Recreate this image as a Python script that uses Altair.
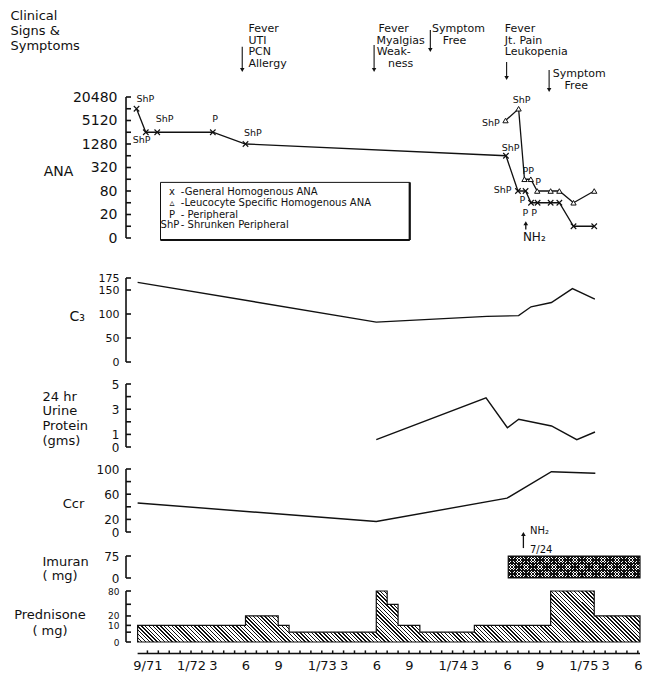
import altair as alt
import pandas as pd

FONT = "DejaVu Sans"
INK = "#111111"
NB = "\u00a0"

# ---------------- data (time = months counted from Jan 1971, 0 = 1/71) ----------------
T0, T1 = 7.1, 53.2
month_ticks = list(range(8, 54))

# ANA titres - general homogenous (x) and leucocyte specific (triangles)
gen_t = [7.0, 7.85, 8.9, 14.0, 17.0, 40.9, 42.0, 42.7, 43.2, 43.8, 45.0, 45.8, 47.1, 49.0]
gen_titer = [10240, 2560, 2560, 2560, 1280, 640, 80, 80, 40, 40, 40, 40, 10, 10]
leu_t = [40.86, 42.06, 42.6, 43.18, 43.77, 45.0, 45.8, 47.1, 49.0]
leu_titer = [5120, 10240, 160, 160, 80, 80, 80, 40, 80]
pat_text = ["ShP", "ShP", "ShP", "P", "ShP", "ShP", "ShP", "ShP", "PP", "P", "ShP", "P", "P P"]
pat_t = [7.82, 7.46, 9.58, 14.21, 17.68, 41.32, 39.52, 42.33, 42.95, 43.85, 40.6, 42.4, 43.08]
pat_titer = [18200, 1624, 5490, 5490, 2410, 993, 4340, 17120, 260, 135, 85, 47, 21.5]
ana_ticks = [5 * 2 ** k for k in range(13)]

legend_sym = ["x", "\u25b5", "P", "ShP"]
legend_desc = ["-General  Homogenous ANA", "-Leucocyte Specific Homogenous ANA",
               "- Peripheral", "- Shrunken Peripheral"]
legend_titer = [73.9, 39.2, 20.0, 10.6]

c3_t = [7.1, 29.0, 39.15, 42.06, 43.2, 45.07, 47.0, 49.06]
c3_val = [166, 83, 95, 96.5, 115, 124, 153, 131]
urine_t = [29.0, 39.07, 41.03, 42.07, 45.08, 47.4, 49.07]
urine_val = [0.58, 3.9, 1.53, 2.2, 1.67, 0.58, 1.19]
ccr_t = [7.1, 29.0, 41.0, 45.07, 49.1]
ccr_val = [46, 16.7, 53.7, 95.7, 93.2]
imuran_start, imuran_end, imuran_dose = 41.11, 53.2, 75
pred_t = [7.1, 17, 20, 21, 29, 30, 31, 33, 38, 45, 49, 53.2]
pred_dose = [10, 20, 10, 5, 80, 40, 10, 5, 10, 80, 20, 20]

ann_text = ["Fever", "UTI", "PCN", "Allergy",
            "Fever", "Myalgias", "Weak-", "ness",
            "Symptom", "Free",
            "Fever", "Jt. Pain", "Leukopenia",
            "Symptom", "Free"]
ann_t = [17.27, 17.27, 17.27, 17.27,
         30.6, 31.23, 30.6, 31.23,
         36.54, 36.18,
         40.8, 40.8, 40.8,
         47.62, 47.35]
ann_row = [21, 32.6, 44.2, 55.8, 21, 32.6, 44.2, 55.8, 21, 32.6, 21, 32.6, 44.2, 66, 78]
ann_align = ["left"] * 4 + ["center"] * 6 + ["left"] * 3 + ["center"] * 2
arrow_t = [16.7, 28.8, 33.96, 40.96, 44.86]
arrow_from = [38.7, 37, 22, 54, 62]
arrow_to = [62, 62, 42, 70, 82]

# ---------------- layout ----------------
W_DATA = 502                  # width of the time span T0..T1
AX_OFF = 11.6                 # value axes stand this far left of the time origin
INSET = 12                    # room between panel edge and the value axes
TICK = 5
PPM = W_DATA / (T1 - T0)      # pixels per month
X_AX = T0 - AX_OFF / PPM      # position of the value axes
XL = X_AX - INSET / PPM       # left edge of every panel
W = int(round(W_DATA + AX_OFF + INSET))
H_ANN, H_ANA, H_C3, H_UR, H_CCR, H_IM, H_PR, H_TA = 87, 141, 84, 63, 63, 22, 51, 8
GAPS = [2, 40, 22, 22, 24, 13, 8]

xsc = alt.Scale(domain=[XL, T1], nice=False, zero=False)


def X(f="t", axis=None):
    return alt.X(f"{f}:Q", scale=xsc, axis=axis)


def yaxis(values, title, tx, ty, align="left", lh=14.0, fs=12, gap=7, expr=None, tfs=13, show=True):
    kw = dict(orient="left", offset=-INSET, grid=False, domain=False, ticks=False, tickSize=0,
              labels=show, labelPadding=gap, labelAlign="right", labelBaseline="middle",
              labelFont=FONT, labelFontSize=fs, labelColor=INK, labelOverlap=False, labelFlush=False,
              title=title, titleAngle=0, titleX=tx, titleY=ty, titleAlign=align, titleBaseline="top",
              titleFont=FONT, titleFontSize=tfs, titleFontWeight="normal", titleColor=INK,
              titleLineHeight=lh)
    if values is not None:
        kw["values"] = values
    if expr is not None:
        kw["labelExpr"] = expr
    return alt.Axis(**kw)


def frame(values, Y):
    """Bracket-style value axis: spine plus inward ticks, drawn as rule segments."""
    lo, hi = min(values), max(values)
    xt = X_AX + TICK / PPM
    rows = {"x1": [X_AX] + [X_AX] * len(values),
            "x2": [X_AX] + [xt] * len(values),
            "y1": [lo] + list(values),
            "y2": [hi] + list(values)}
    return alt.Chart(pd.DataFrame(rows)).mark_rule(color=INK, strokeWidth=1.6).encode(
        x=X("x1"), x2="x2:Q", y=Y("y1"), y2="y2:Q")


def hatch(w, h, period, frac, forward, dark, light):
    k = h / w
    c = (w + h) * w / (w * w + h * h)
    if forward:
        x1, y1, x2, y2 = 0, 0, c, c * k
    else:
        x1, y1, x2, y2 = 0, 1, c, 1 - c * k
    ds = period / (w + h)
    stops = []
    i = 0
    while i * ds < 1:
        a = i * ds
        b = min(a + frac * ds, 1.0)
        e = min(a + ds, 1.0)
        stops += [(a, dark), (b, dark), (b, light), (e, light)]
        i += 1
    return {"gradient": "linear", "x1": x1, "y1": y1, "x2": x2, "y2": y2,
            "stops": [{"offset": round(o, 6), "color": col} for o, col in stops]}


# ---------------- clinical signs panel ----------------
ysc_ann = alt.Scale(domain=[0, H_ANN], reverse=True, nice=False, zero=False)
ax_ann = yaxis(None, ["Clinical", "Signs &", "Symptoms"], -116, 1.5, lh=15, show=False)
df_ann = pd.DataFrame(dict(t=ann_t, row=ann_row, text=ann_text, al=ann_align))
df_arr = pd.DataFrame(dict(t=arrow_t, y1=arrow_from, y2=arrow_to))

ann_left = alt.Chart(df_ann).transform_filter(alt.datum.al == "left").mark_text(
    align="left", baseline="middle", font=FONT, fontSize=11, color=INK
).encode(x=X(), y=alt.Y("row:Q", scale=ysc_ann, axis=ax_ann), text="text:N")
ann_center = alt.Chart(df_ann).transform_filter(alt.datum.al == "center").mark_text(
    align="center", baseline="middle", font=FONT, fontSize=11, color=INK
).encode(x=X(), y=alt.Y("row:Q", scale=ysc_ann, axis=ax_ann), text="text:N")
ann_rule = alt.Chart(df_arr).mark_rule(color=INK, strokeWidth=1.1).encode(
    x=X(), y=alt.Y("y1:Q", scale=ysc_ann, axis=ax_ann), y2="y2:Q")
ann_head = alt.Chart(df_arr).mark_point(shape="triangle-down", filled=True, size=20, color=INK, opacity=1).encode(
    x=X(), y=alt.Y("y2:Q", scale=ysc_ann, axis=ax_ann))
annot = alt.layer(ann_left, ann_center, ann_rule, ann_head).properties(width=W, height=H_ANN)

# ---------------- ANA panel ----------------
ysc_ana = alt.Scale(type="log", base=2, domain=[5, 20480], nice=False)
ana_expr = ("datum.value == 5 ? '0' : (round(log(datum.value / 5) / log(2)) % 2 == 0 ? "
            "format(datum.value, 'd') : '')")
ax_ana = yaxis(ana_ticks, "ANA", -68, 67.1, align="center", fs=14, gap=9, tfs=14, expr=ana_expr)


def YA(f):
    return alt.Y(f"{f}:Q", scale=ysc_ana, axis=ax_ana)


box_df = pd.DataFrame({"x1": [9.2], "x2": [32.07], "y1": [133], "y2": [4.44]})
shadow_df = pd.DataFrame({"x1": [32.07, 9.2], "x2": [32.07, 32.07], "y1": [4.44, 4.44], "y2": [133, 4.44]})
box = alt.Chart(box_df).mark_rect(fill="white", stroke=INK, strokeWidth=1).encode(
    x=X("x1"), x2="x2:Q", y=YA("y1"), y2="y2:Q")
shadow = alt.Chart(shadow_df).mark_rule(color=INK, strokeWidth=2.2).encode(
    x=X("x1"), x2="x2:Q", y=YA("y1"), y2="y2:Q")
leg_df = pd.DataFrame(dict(ts=[10.25, 10.25, 10.25, 10.07], td=[11.06] * 4,
                           titer=legend_titer, sym=legend_sym, desc=legend_desc))
leg_sym = alt.Chart(leg_df).mark_text(align="center", baseline="middle", font=FONT, fontSize=10, color=INK).encode(
    x=X("ts"), y=YA("titer"), text="sym:N")
leg_desc = alt.Chart(leg_df).mark_text(align="left", baseline="middle", font=FONT, fontSize=10, color=INK).encode(
    x=X("td"), y=YA("titer"), text="desc:N")

gen_df = pd.DataFrame(dict(t=gen_t, titer=gen_titer))
leu_df = pd.DataFrame(dict(t=leu_t, titer=leu_titer))
pat_df = pd.DataFrame(dict(t=pat_t, titer=pat_titer, text=pat_text))
XPATH = "M-1,-1L1,1M-1,1L1,-1"
gen_line = alt.Chart(gen_df).mark_line(color=INK, strokeWidth=1.3).encode(x=X(), y=YA("titer"))
gen_pts = alt.Chart(gen_df).mark_point(shape=XPATH, size=30, filled=False, color=INK, strokeWidth=1.1, opacity=1).encode(
    x=X(), y=YA("titer"))
leu_line = alt.Chart(leu_df).mark_line(color=INK, strokeWidth=1.3).encode(x=X(), y=YA("titer"))
leu_pts = alt.Chart(leu_df).mark_point(shape="triangle-up", size=28, filled=True, fill="white", stroke=INK,
                                       strokeWidth=1, opacity=1).encode(x=X(), y=YA("titer"))
pat_lab = alt.Chart(pat_df).mark_text(align="center", baseline="middle", font=FONT, fontSize=9.5, color=INK).encode(
    x=X(), y=YA("titer"), text="text:N")
nh_df = pd.DataFrame(dict(t=[42.72], y1=[8.2], y2=[12.0], tt=[43.5], ty=[5.4], text=["NH\u2082"]))
nh_rule = alt.Chart(nh_df).mark_rule(color=INK, strokeWidth=1.3).encode(x=X(), y=YA("y1"), y2="y2:Q")
nh_head = alt.Chart(nh_df).mark_point(shape="triangle-up", filled=True, size=22, color=INK, opacity=1).encode(
    x=X(), y=YA("y2"))
nh_text = alt.Chart(nh_df).mark_text(align="center", baseline="middle", font=FONT, fontSize=12, color=INK).encode(
    x=X("tt"), y=YA("ty"), text="text:N")
ana = alt.layer(box, shadow, frame(ana_ticks, YA), leg_sym, leg_desc, gen_line, gen_pts, leu_line, leu_pts,
                pat_lab, nh_rule, nh_head, nh_text).properties(width=W, height=H_ANA)


# ---------------- C3 / urine protein / Ccr ----------------
def line_panel(ts, vs, dom, ticks, axis, height):
    sc = alt.Scale(domain=dom, nice=False)

    def Y(f):
        return alt.Y(f"{f}:Q", scale=sc, axis=axis)

    ln = alt.Chart(pd.DataFrame(dict(t=ts, v=vs))).mark_line(color=INK, strokeWidth=1.4).encode(x=X(), y=Y("v"))
    return alt.layer(ln, frame(ticks, Y)).properties(width=W, height=height)


c3_ticks = [0, 50, 100, 150, 175]
c3 = line_panel(c3_t, c3_val, [0, 175], c3_ticks,
                yaxis(c3_ticks, "C\u2083", -57, 31.5, tfs=14, fs=11), H_C3)
ur_ticks = [0, 1, 2, 3, 4, 5]
urine = line_panel(urine_t, urine_val, [0, 5], ur_ticks,
                   yaxis(ur_ticks, ["24 hr", "Urine", "Protein", "(gms)"], -84, 6.2, lh=14.7,
                         expr="indexof([0, 1, 3, 5], datum.value) >= 0 ? datum.label : ''"), H_UR)
ccr_ticks = [0, 20, 40, 60, 80, 100]
ccr = line_panel(ccr_t, ccr_val, [0, 100], ccr_ticks,
                 yaxis(ccr_ticks, "Ccr", -53, 28.5, align="center",
                       expr="indexof([0, 20, 60, 100], datum.value) >= 0 ? datum.label : ''"), H_CCR)

# ---------------- Imuran ----------------
ysc_im = alt.Scale(domain=[0, 75], nice=False)
ax_im = yaxis([0, 75], ["Imuran", "(" + NB + "mg)"], -84, -0.5, lh=14)


def YI(f):
    return alt.Y(f"{f}:Q", scale=ysc_im, axis=ax_im)


w_im = (imuran_end - imuran_start) * PPM
im_df = pd.DataFrame({"x1": [imuran_start], "x2": [imuran_end], "d": [imuran_dose], "z": [0]})
im_a = alt.Chart(im_df).mark_rect(fill=hatch(w_im, H_IM, 2.8, 0.5, False, INK, "white"), opacity=1).encode(
    x=X("x1"), x2="x2:Q", y=YI("d"), y2="z:Q")
im_b = alt.Chart(im_df).mark_rect(fill=hatch(w_im, H_IM, 2.8, 0.5, True, INK, "rgba(255,255,255,0)"),
                                  stroke=INK, strokeWidth=1.2, opacity=1).encode(
    x=X("x1"), x2="x2:Q", y=YI("d"), y2="z:Q")
imnh_df = pd.DataFrame(dict(t=[42.5], y1=[102], y2=[150]))
imtx_df = pd.DataFrame(dict(t=[43.1, 43.1], y=[159, 96.5], text=["NH\u2082", "7/24"]))
im_rule = alt.Chart(imnh_df).mark_rule(color=INK, strokeWidth=1.3).encode(x=X(), y=YI("y1"), y2="y2:Q")
im_head = alt.Chart(imnh_df).mark_point(shape="triangle-up", filled=True, size=22, color=INK, opacity=1).encode(
    x=X(), y=YI("y2"))
im_text = alt.Chart(imtx_df).mark_text(align="left", baseline="middle", font=FONT, fontSize=10, color=INK).encode(
    x=X(), y=YI("y"), text="text:N")
imuran = alt.layer(im_a, im_b, frame([0, 75], YI), im_rule, im_head, im_text).properties(width=W, height=H_IM)

# ---------------- Prednisone ----------------
pr_ticks = [0, 5, 10, 20, 40, 80]
ysc_pr = alt.Scale(type="symlog", constant=9, domain=[0, 80], nice=False)
ax_pr = yaxis(pr_ticks, ["Prednisone", NB + NB + "(" + NB + "mg)"], -76.5, 17.5,
              align="center", lh=15.7, fs=9,
              expr="indexof([0, 10, 20, 80], datum.value) >= 0 ? datum.label : ''")


def YP(f):
    return alt.Y(f"{f}:Q", scale=ysc_pr, axis=ax_pr)


pred_area = alt.Chart(pd.DataFrame(dict(t=pred_t, d=pred_dose))).mark_area(
    interpolate="step-after", fill=hatch(W_DATA, H_PR, 3.8, 0.38, False, INK, "white"),
    stroke=INK, strokeWidth=1.2, opacity=1
).encode(x=X(), y=YP("d"))
pred = alt.layer(pred_area, frame(pr_ticks, YP)).properties(width=W, height=H_PR)

# ---------------- time axis strip (ticks pointing up, labels below) ----------------
xexpr = ("datum.value % 12 == 0 || datum.value == 8 ? "
         "format(datum.value % 12 + 1, 'd') + '/' + format(71 + floor(datum.value / 12), 'd') : "
         "(datum.value % 12 == 2 ? '3' : (datum.value % 12 == 5 ? '6' : "
         "(datum.value % 12 == 8 ? '9' : '')))")
xax = alt.Axis(orient="top", offset=-4.3, values=month_ticks, grid=False, domain=False, ticks=False,
               tickSize=0, labelPadding=-5, labelBaseline="top", labelAlign="center", labelAngle=0,
               labelFont=FONT, labelFontSize=13, labelColor=INK,
               labelOverlap=False, labelFlush=False, labelExpr=xexpr, title=None)
ysc_ax = alt.Scale(domain=[0, H_TA], reverse=True, nice=False, zero=False)
seg = {"x1": [T0] + month_ticks, "x2": [T1] + month_ticks,
       "y1": [3.6] + [0.4] * len(month_ticks), "y2": [3.6] + [3.6] * len(month_ticks)}
time_axis = alt.Chart(pd.DataFrame(seg)).mark_rule(color=INK, strokeWidth=1.5).encode(
    x=X("x1", xax), x2="x2:Q", y=alt.Y("y1:Q", scale=ysc_ax, axis=None), y2="y2:Q"
).properties(width=W, height=H_TA)


def spacer(h):
    return alt.Chart(pd.DataFrame({"a": [0]})).mark_point(opacity=0).encode(
        x=alt.value(0), y=alt.value(0)).properties(width=W, height=h)


panels = [annot, ana, c3, urine, ccr, imuran, pred, time_axis]
seq = [panels[0]]
for g, p in zip(GAPS, panels[1:]):
    seq += [spacer(g), p]

chart = alt.vconcat(*seq, spacing=0, bounds="flush").properties(
    padding={"left": 2, "top": 0, "right": 0, "bottom": 0}, background="white"
).configure_view(stroke=None)

chart.save("out.html", embed_options={"renderer": "svg", "actions": False})
